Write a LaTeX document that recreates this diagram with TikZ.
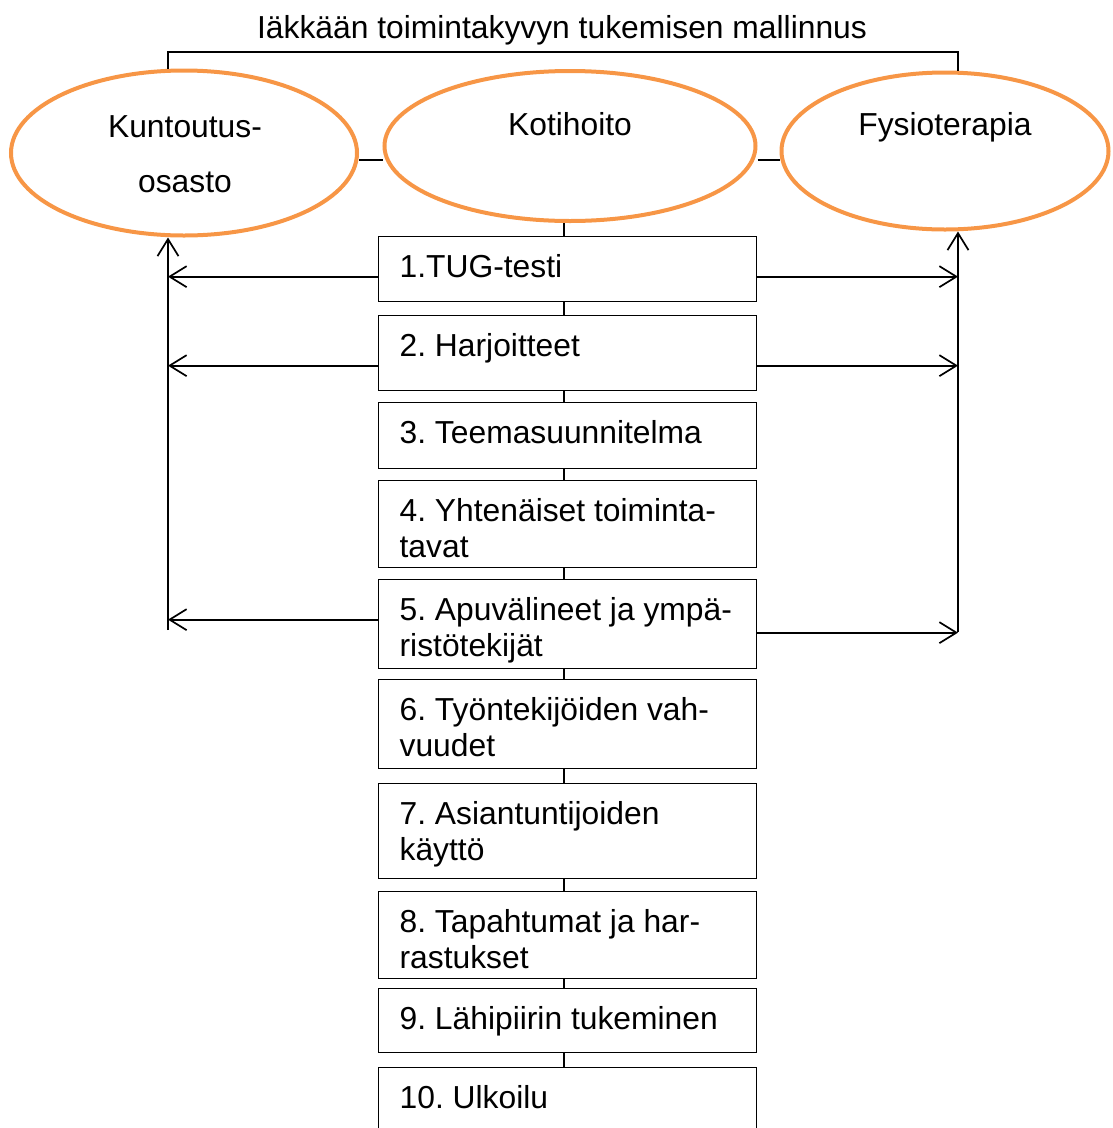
\documentclass[tikz,border=0pt]{standalone}
\usepackage{fontspec}
\setmainfont{Liberation Sans}
\usetikzlibrary{shapes.geometric,arrows.meta,calc}
\definecolor{ovorange}{HTML}{F79646}
\frenchspacing
\newcommand\boxtext[2]{\parbox[t][#1][t]{378pt}{\frenchspacing\leftskip=21pt\rule{0pt}{40.4pt}#2}}
\begin{document}
\begin{tikzpicture}[x=1pt,y=-1pt,
  every node/.style={font=\fontsize{31.8}{36.5}\selectfont},
  oval/.style={ellipse, draw=ovorange, line width=4pt, inner sep=0},
  itembox/.style={draw, line width=1.3pt, fill=white, inner sep=0, anchor=north west},
  plain/.style={line width=1.4pt},
  arr/.style={line width=1.7pt, -{Straight Barb[length=17pt,width=21pt,line width=1.7pt]}}]
\useasboundingbox (0,0) rectangle (1112,1128);

% title
\node (title) at (562,30) {Iäkkään toimintakyvyn tukemisen mallinnus};

% ellipses
\node[oval, minimum width=346pt, minimum height=165pt] (e1) at (184,153) {};
\node[oval, minimum width=371pt, minimum height=150pt] (e2) at (570,146) {};
\node[oval, minimum width=327pt, minimum height=157pt] (e3) at (945,151) {};
\node (e1t) at (185,127) {Kuntoutus-};
\node (e1u) at (185,182) {osasto};
\node (e2t) at (570,124) {Kotihoito};
\node (e3t) at (945,127) {Fysioterapia};

% top bracket
\coordinate (bl) at (168,52);
\coordinate (br) at (958,52);
\draw[plain] (e1.north -| bl) -- (bl) -- (br) -- (e3.north -| br);

% connectors between ellipses
\coordinate (hl) at (0,160);
\draw[plain] (e1.east |- hl) -- (e2.west |- hl);
\draw[plain] (e2.east |- hl) -- (e3.west |- hl);

% boxes
\node[itembox] (b1) at (378,236) {\boxtext{65pt}{1.TUG-testi}};
\node[itembox] (b2) at (378,315) {\boxtext{75pt}{2. Harjoitteet}};
\node[itembox] (b3) at (378,402) {\boxtext{66pt}{3. Teemasuunnitelma}};
\node[itembox] (b4) at (378,480) {\boxtext{87pt}{4. Yhtenäiset toiminta-\\tavat}};
\node[itembox] (b5) at (378,579) {\boxtext{89pt}{5. Apuvälineet ja ympä-\\ristötekijät}};
\node[itembox] (b6) at (378,679) {\boxtext{89pt}{6. Työntekijöiden vah-\\vuudet}};
\node[itembox] (b7) at (378,783) {\boxtext{95pt}{7. Asiantuntijoiden\\käyttö}};
\node[itembox] (b8) at (378,891) {\boxtext{87pt}{8. Tapahtumat ja har-\\rastukset}};
\node[itembox] (b9) at (378,988) {\boxtext{64pt}{9. Lähipiirin tukeminen}};
\node[itembox] (b10) at (378,1067) {\boxtext{75pt}{10. Ulkoilu}};

% central spine
\coordinate (sp) at (564,0);
\draw[plain] (e2.south -| sp) -- (b1.north -| sp);
\draw[plain] (b1.south -| sp) -- (b2.north -| sp);
\draw[plain] (b2.south -| sp) -- (b3.north -| sp);
\draw[plain] (b3.south -| sp) -- (b4.north -| sp);
\draw[plain] (b4.south -| sp) -- (b5.north -| sp);
\draw[plain] (b5.south -| sp) -- (b6.north -| sp);
\draw[plain] (b6.south -| sp) -- (b7.north -| sp);
\draw[plain] (b7.south -| sp) -- (b8.north -| sp);
\draw[plain] (b8.south -| sp) -- (b9.north -| sp);
\draw[plain] (b9.south -| sp) -- (b10.north -| sp);

% side spines
\coordinate (ls) at (168,630);
\coordinate (rs) at (958,632);
\draw[arr] (ls) -- (e1.south -| ls);
\draw[arr] (rs) -- (e3.south -| rs);

% horizontal arrows
\coordinate (l1) at ($(b1.west)+(0,7.5)$);
\coordinate (r1) at ($(b1.east)+(0,7.5)$);
\coordinate (l2) at ($(b2.west)+(0,12.5)$);
\coordinate (r2) at ($(b2.east)+(0,12.5)$);
\coordinate (l5) at ($(b5.west)+(0,-4.5)$);
\coordinate (r5) at ($(b5.east)+(0,8.5)$);
\draw[arr] (l1) -- (l1 -| ls);
\draw[arr] (r1) -- (r1 -| rs);
\draw[arr] (l2) -- (l2 -| ls);
\draw[arr] (r2) -- (r2 -| rs);
\draw[arr] (l5) -- (l5 -| ls);
\draw[arr] (r5) -- (r5 -| rs);
\end{tikzpicture}
\end{document}
